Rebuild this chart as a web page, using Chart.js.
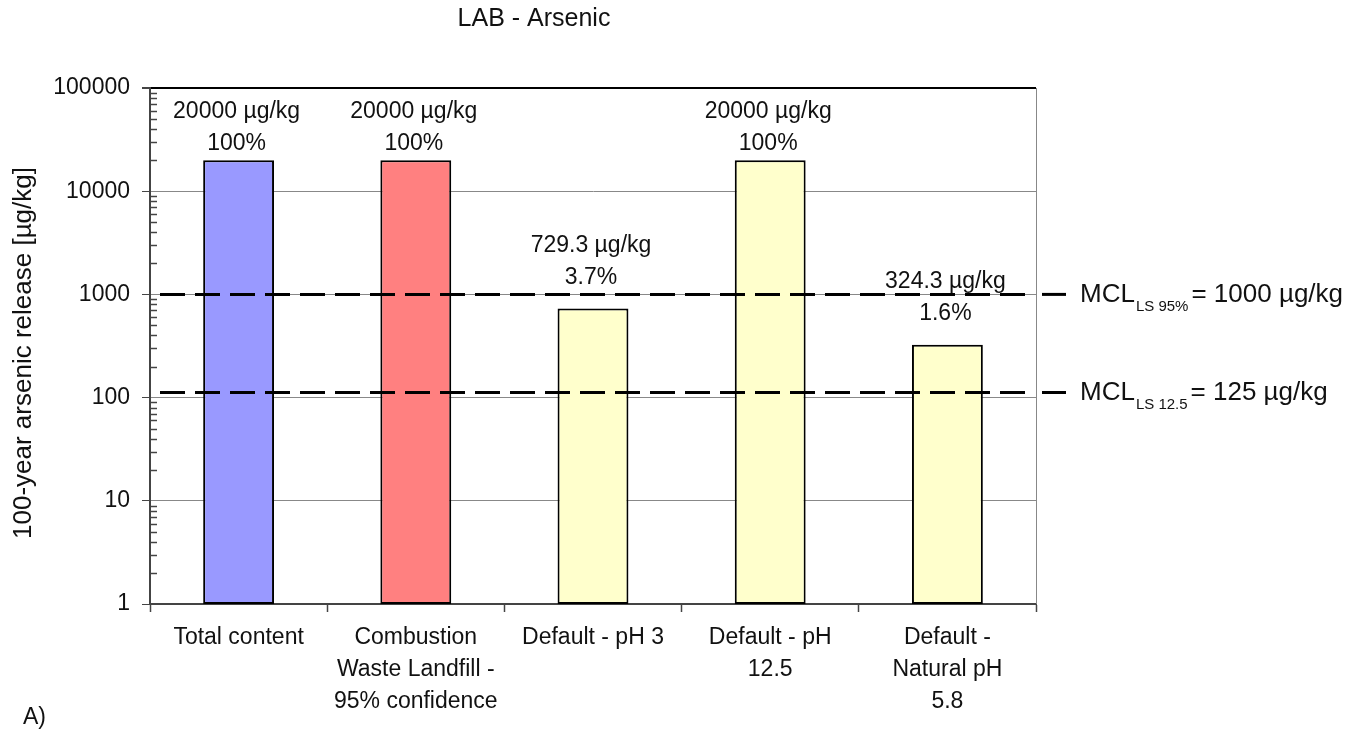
<!DOCTYPE html>
<html>
<head>
<meta charset="utf-8">
<script src="https://cdn.jsdelivr.net/npm/chart.js@4.4.0/dist/chart.umd.min.js"></script>
<style>
  body { margin: 0; background: #fff; }
  canvas { display: block; }
</style>
</head>
<body>
<canvas id="grafico" width="1364" height="733"></canvas>
<script>
// Datos del grafico
const categories = [
    ['Total content'],
    ['Combustion', 'Waste Landfill -', '95% confidence'],
    ['Default - pH 3'],
    ['Default - pH', '12.5'],
    ['Default -', 'Natural pH', '5.8']
];
const releaseValues = [20000, 20000, 729.3, 20000, 324.3];
const percentLabels = ['100%', '100%', '3.7%', '100%', '1.6%'];
const barColors = ['#9999FF', '#FF8080', '#FFFFCC', '#FFFFCC', '#FFFFCC'];
const yTicks = [1, 10, 100, 1000, 10000, 100000];
const mclValues = [1000, 112];
const mclSubs = ['LS 95%', 'LS 12.5'];
const mclTexts = ['= 1000 µg/kg', '= 125 µg/kg'];

const FONT = "'Liberation Sans', Arial, sans-serif";
const TXT = '#111';

// Plugin para textos, lineas MCL y ticks menores
const extras = {
    id: 'extras',
    afterDatasetsDraw(chart) {
        const ctx = chart.ctx;
        const area = chart.chartArea;
        const y = chart.scales.y;
        const meta = chart.getDatasetMeta(0);

        ctx.save();
        // borde derecho del area
        ctx.strokeStyle = '#888';
        ctx.lineWidth = 1;
        ctx.beginPath();
        ctx.moveTo(area.right + 0.5, area.top);
        ctx.lineTo(area.right + 0.5, area.bottom);
        ctx.stroke();

        // ticks menores (hacia adentro)
        ctx.strokeStyle = '#444';
        ctx.lineWidth = 1.5;
        for (let d = 1; d < 100000; d *= 10) {
            for (let m = 2; m <= 9; m++) {
                const py = Math.round(y.getPixelForValue(m * d)) + 0.5;
                ctx.beginPath();
                ctx.moveTo(area.left, py);
                ctx.lineTo(area.left + 7, py);
                ctx.stroke();
            }
        }

        // etiquetas de las barras
        ctx.fillStyle = TXT;
        ctx.font = '23px ' + FONT;
        ctx.textAlign = 'center';
        ctx.textBaseline = 'middle';
        meta.data.forEach(function (bar, i) {
            let l1 = bar.y - 63;
            if (l1 < area.top + 24) l1 = area.top + 24;
            ctx.fillText(releaseValues[i] + ' µg/kg', bar.x - 2, l1);
            ctx.fillText(percentLabels[i], bar.x - 2, l1 + 32);
        });

        // lineas MCL
        mclValues.forEach(function (v, i) {
            const py = y.getPixelForValue(v);
            ctx.strokeStyle = '#000';
            ctx.lineWidth = 3;
            ctx.setLineDash([25, 10]);
            ctx.beginPath();
            ctx.moveTo(area.left + 10, py);
            ctx.lineTo(area.right - 3, py);
            ctx.stroke();
            ctx.setLineDash([]);
            ctx.beginPath();
            ctx.moveTo(area.right + 6, py);
            ctx.lineTo(area.right + 30, py);
            ctx.stroke();

            ctx.textAlign = 'left';
            ctx.textBaseline = 'middle';
            ctx.font = '26px ' + FONT;
            let x = area.right + 44;
            ctx.fillText('MCL', x, py);
            x += ctx.measureText('MCL').width + 1;
            ctx.font = '15px ' + FONT;
            ctx.fillText(mclSubs[i], x, py + 12);
            x += ctx.measureText(mclSubs[i]).width + 3;
            ctx.font = '26px ' + FONT;
            ctx.fillText(mclTexts[i], x, py);
        });

        // titulo, eje y, marca A)
        ctx.font = '25px ' + FONT;
        ctx.textAlign = 'center';
        ctx.fillText('LAB - Arsenic', 534, 19);
        ctx.font = '23px ' + FONT;
        ctx.textAlign = 'left';
        ctx.fillText('A)', 23, 718);
        ctx.font = '26px ' + FONT;
        ctx.translate(24, (area.top + area.bottom) / 2 + 7);
        ctx.rotate(-Math.PI / 2);
        ctx.textAlign = 'center';
        ctx.fillText('100-year arsenic release [µg/kg]', 0, 0);
        ctx.restore();
    }
};

const chart = new Chart(document.getElementById('grafico').getContext('2d'), {
    type: 'bar',
    data: {
        labels: categories,
        datasets: [{
            data: releaseValues,
            backgroundColor: barColors,
            borderColor: '#000',
            borderWidth: 2,
            borderSkipped: false,
            barPercentage: 0.4,
            categoryPercentage: 1.0
        }]
    },
    options: {
        responsive: false,
        animation: false,
        layout: { padding: { top: 88, right: 328, left: 0, bottom: 0 } },
        plugins: {
            legend: { display: false },
            tooltip: { enabled: false },
            title: { display: false }
        },
        scales: {
            x: {
                afterFit: function (s) { s.height = 129; },
                grid: {
                    offset: true,
                    drawOnChartArea: false,
                    tickLength: 8,
                    tickColor: '#444',
                    tickWidth: 1.5
                },
                border: { color: '#444', width: 2 },
                ticks: {
                    color: TXT,
                    padding: 10,
                    maxRotation: 0,
                    autoSkip: false,
                    font: { family: FONT, size: 23, lineHeight: 1.38 }
                }
            },
            y: {
                type: 'logarithmic',
                min: 1,
                max: 100000,
                afterFit: function (s) { s.width = 150; },
                afterBuildTicks: function (s) {
                    s.ticks = yTicks.map(function (v) { return { value: v, major: true }; });
                },
                grid: {
                    color: function (c) { return c.tick && c.tick.value === 100000 ? '#000' : '#888'; },
                    lineWidth: function (c) { return c.tick && c.tick.value === 100000 ? 2 : 1; },
                    tickLength: 8,
                    tickColor: '#444'
                },
                border: { color: '#444', width: 2 },
                ticks: {
                    color: TXT,
                    padding: 12,
                    font: { family: FONT, size: 23 },
                    callback: function (v) { return String(v); }
                }
            }
        }
    },
    plugins: [extras]
});
</script>
</body>
</html>
